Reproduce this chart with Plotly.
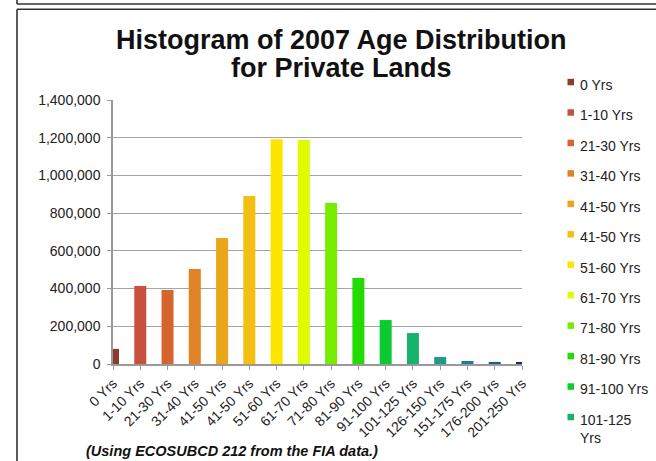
import plotly.graph_objects as go

# ---- data ----
categories = ["0 Yrs", "1-10 Yrs", "21-30 Yrs", "31-40 Yrs", "41-50 Yrs", "41-50 Yrs",
              "51-60 Yrs", "61-70 Yrs", "71-80 Yrs", "81-90 Yrs", "91-100 Yrs",
              "101-125 Yrs", "126-150 Yrs", "151-175 Yrs", "176-200 Yrs", "201-250 Yrs"]
acres = [80000, 414000, 393000, 504000, 668000, 891000, 1192000, 1188000,
         854000, 456000, 233000, 164000, 37000, 16000, 11000, 10000]
colors = ["#8B3A2C", "#C6523E", "#D4652F", "#E08226", "#EBA618", "#F3BF10",
          "#FDE500", "#DDFC00", "#78EC00", "#22DC00", "#0ACB30", "#17B36A",
          "#1F9C88", "#1F7E8F", "#1B5A8A", "#12297B"]
y_ticks = [0, 200000, 400000, 600000, 800000, 1000000, 1200000, 1400000]
title_lines = ["Histogram of 2007 Age Distribution", "for Private Lands"]
footnote = "(Using ECOSUBCD 212 from the FIA data.)"
legend_count = 12

# ---- layout geometry (pixels) ----
W, H = 656, 461
L, R, T, B = 113, 134, 100, 97
PW, PH = W - L - R, H - T - B

def px(x):
    return (x - L) / PW

def py(y):
    return (H - B - y) / PH

FONT = "Liberation Sans, Arial, sans-serif"

fig = go.Figure()
xs = list(range(len(acres)))
for i, (c, v, col) in enumerate(zip(categories, acres, colors)):
    fig.add_trace(go.Bar(x=[xs[i]], y=[v], name=c, marker=dict(color=col, line=dict(width=0)),
                         width=0.44, showlegend=False))

fig.update_layout(
    width=W, height=H,
    margin=dict(l=L, r=R, t=T, b=B),
    paper_bgcolor="white", plot_bgcolor="white",
    font=dict(family=FONT, color="#222222"),
    xaxis=dict(range=[0, len(acres) - 1], tickmode="array", tickvals=xs, ticktext=categories,
               tickangle=-45, tickfont=dict(size=14, color="#222222"),
               showgrid=False, showline=True, linecolor="#999999", linewidth=1.5,
               ticks="outside", ticklen=4, tickcolor="#999999", tickwidth=1.2,
               zeroline=False, fixedrange=True),
    yaxis=dict(range=[0, 1400000], tickmode="array", tickvals=y_ticks, tickformat=",d",
               tickfont=dict(size=14, color="#222222"),
               showgrid=True, gridcolor="#a3a3a3", gridwidth=1.4,
               showline=True, linecolor="#999999", linewidth=1.5,
               ticks="outside", ticklen=4, tickcolor="#999999", tickwidth=1.2,
               ticklabelstandoff=4, zeroline=False, fixedrange=True),
    bargap=0.5,
)

ann = []
# title
ann.append(dict(text="<b>%s</b>" % title_lines[0], x=px(341), y=py(40), xref="paper", yref="paper",
                xanchor="center", yanchor="middle", showarrow=False,
                font=dict(size=27, color="#111111", family=FONT)))
ann.append(dict(text="<b>%s</b>" % title_lines[1], x=px(341), y=py(67.5), xref="paper", yref="paper",
                xanchor="center", yanchor="middle", showarrow=False,
                font=dict(size=27, color="#111111", family=FONT)))
# footnote
ann.append(dict(text="<b><i>%s</i></b>" % footnote, x=px(84), y=py(451), xref="paper", yref="paper",
                xanchor="left", yanchor="middle", showarrow=False,
                font=dict(size=14.5, color="#111111", family=FONT)))

shapes = []
# manual legend
for i in range(legend_count):
    cy = 83.3 + i * 30.45
    label = categories[i]
    if len(label) > 10:
        label = label.replace(" ", "<br>")
    shapes.append(dict(type="rect", xref="paper", yref="paper",
                       x0=px(567.5), x1=px(574), y0=py(cy - 4.5), y1=py(cy + 2),
                       fillcolor=colors[i], line=dict(width=0)))
    ann.append(dict(text=label, x=px(578), y=py(cy - 8.5), xref="paper", yref="paper",
                    xanchor="left", yanchor="top", align="left", showarrow=False,
                    font=dict(size=14, color="#222222", family=FONT)))

# frame lines
frame = dict(color="#333333", width=1.6)
shapes.append(dict(type="line", xref="paper", yref="paper", x0=px(17), x1=px(670), y0=py(4), y1=py(4), line=frame))
shapes.append(dict(type="line", xref="paper", yref="paper", x0=px(17), x1=px(17), y0=py(-5), y1=py(4), line=frame))
shapes.append(dict(type="line", xref="paper", yref="paper", x0=px(17), x1=px(670), y0=py(9.3), y1=py(9.3), line=frame))
shapes.append(dict(type="line", xref="paper", yref="paper", x0=px(17), x1=px(17), y0=py(9.3), y1=py(480), line=frame))

fig.update_layout(annotations=ann, shapes=shapes)
fig.write_html("out.html")
